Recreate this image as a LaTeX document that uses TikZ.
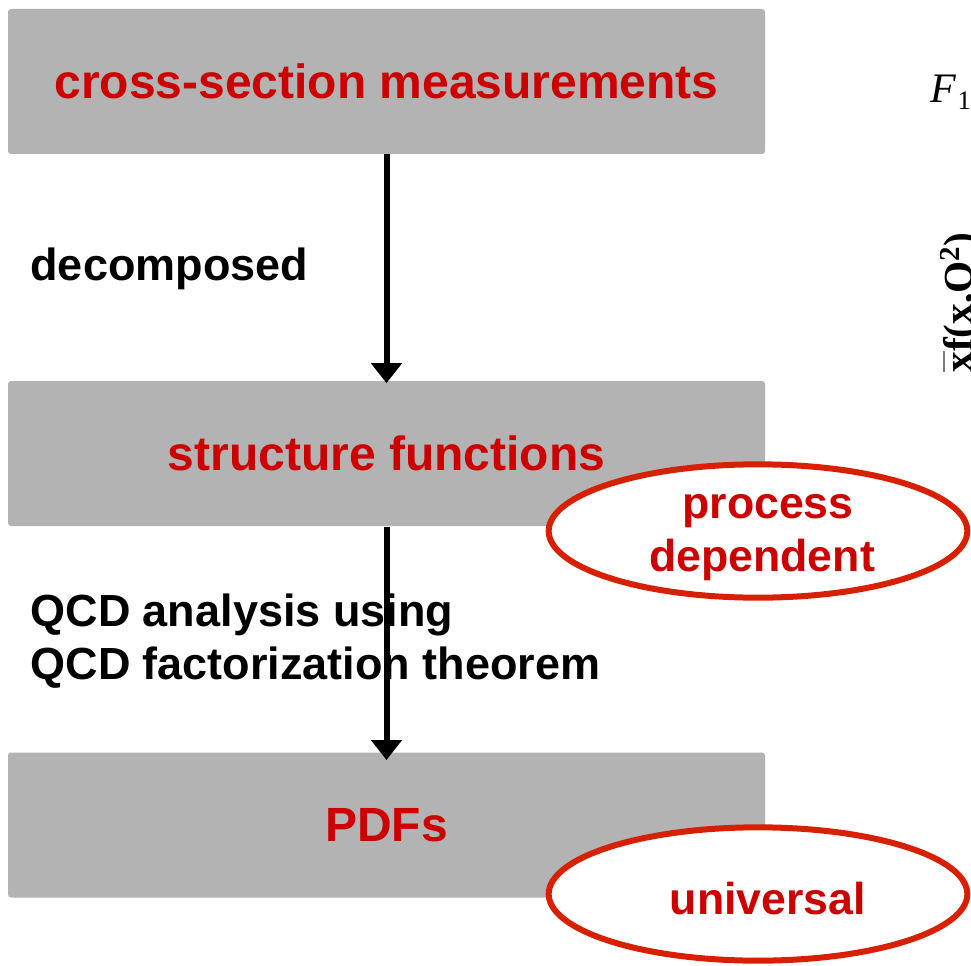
\documentclass[tikz,border=0pt]{standalone}
\usepackage{fontspec}
\setmainfont{Liberation Sans}
\newfontfamily\timesfont{Liberation Serif}
\usetikzlibrary{arrows.meta,shapes.geometric}

\definecolor{boxgray}{RGB}{179,179,179}
\definecolor{titlered}{RGB}{204,0,0}
\definecolor{ringred}{RGB}{214,32,0}

\tikzset{every picture/.style={line width=0.75pt}}
\tikzset{
	stage/.style={rectangle, fill=boxgray, rounded corners=2.25pt, inner sep=0pt,
		minimum width=567.75pt, minimum height=108.75pt,
		text=titlered, font=\fontsize{36}{40}\selectfont\bfseries},
	remark/.style={anchor=base west, inner sep=0pt, font=\fontsize{33.75}{40}\selectfont\bfseries},
	badge/.style={ellipse, draw=ringred, line width=4.5pt, fill=white, inner sep=0pt,
		minimum width=314pt, minimum height=100pt},
	badgetext/.style={anchor=base, inner sep=0pt, text=titlered, font=\fontsize{33.5}{40}\selectfont\bfseries},
	flow/.style={line width=4.5pt, -{Triangle[width=22.5pt,length=15pt]}}
}

\begin{document}
\begin{tikzpicture}[x=0.75pt,y=0.75pt,yscale=-1,xscale=1]
	\useasboundingbox (0,0) rectangle (971,966);
	\clip (0,0) rectangle (971,966);

	% Boxes
	\node[stage] (meas) at (386.5,81.5) {cross-section measurements};
	\node[stage] (sf) at (386.5,453.5) {structure functions};
	\node[stage] (pdf) at (386.5,825) {PDFs};

	% Text Node
	\node[remark] (dec) at (30,281) {decomposed};
	% Text Node
	\node[remark] (qcda) at (30,626) {QCD analysis using};
	% Text Node
	\node[remark] (qcdb) at (30,679) {QCD factorization theorem};

	% Arrows
	\draw[flow] (meas.south) -- ([yshift=2pt]sf.north);
	\draw[flow] (sf.south) -- ([yshift=6pt]pdf.north);

	% Ellipses
	\node[badge] (proc) at (758,531) {};
	\node[badgetext] (proct) at (768,518) {process};
	\node[badgetext] (procd) at (762,571) {dependent};
	\node[badge] (univ) at (758,894) {};
	\node[badgetext] (univt) at (768,914) {universal};

	% Neighbouring plot (cut off)
	\node[anchor=base west, inner sep=0pt, font=\timesfont\fontsize{31.5}{34}\selectfont\itshape] (fone) at (930,103) {F\kern1pt\raisebox{-5.25pt}{\upshape\fontsize{20}{22}\selectfont 1}};
	\node[anchor=base west, rotate=90, inner sep=0pt, font=\timesfont\fontsize{31}{34}\selectfont\bfseries] (xfq) at (972,373) {xf(x,Q\textsuperscript{2})};
	\coordinate (axa) at (944,351);
	\coordinate (axb) at (944,372);
	\draw[gray, line width=0.9pt] (axa) -- (axb);
\end{tikzpicture}
\end{document}
